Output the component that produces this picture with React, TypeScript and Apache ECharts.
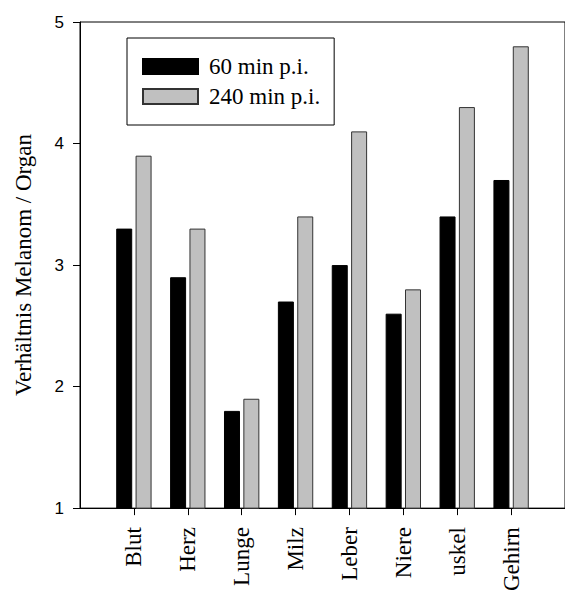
import React, { useEffect, useRef } from "react";
import * as echarts from "echarts";

const categories = ["Blut", "Herz", "Lunge", "Milz", "Leber", "Niere", "uskel", "Gehirn"];
const series60 = [3.3, 2.9, 1.8, 2.7, 3.0, 2.6, 3.4, 3.7];
const series240 = [3.9, 3.3, 1.9, 3.4, 4.1, 2.8, 4.3, 4.8];
const seriesNames = ["60 min p.i.", "240 min p.i."];
const yTitle = "Verhältnis Melanom / Organ";

const SERIF = "Liberation Serif";
const SANS = "Liberation Sans";

export default function App() {
  const ref = useRef<HTMLDivElement>(null);
  useEffect(() => {
    if (!ref.current) return;
    const chart = echarts.init(ref.current, undefined, { renderer: "svg" });
    const padCats = ["", ...categories, ""];
    const pad = (arr: number[]) => ["-", ...arr, "-"];
    chart.setOption({
      animation: false,
      backgroundColor: "#fff",
      textStyle: { fontFamily: SERIF },
      grid: {
        left: 80,
        top: 22,
        bottom: 83,
        right: -5,
        show: true,
        borderColor: "#000",
        borderWidth: 1,
        containLabel: false,
      },
      legend: {
        orient: "vertical",
        left: 127,
        top: 38,
        padding: [17, 14, 17, 15],
        borderColor: "#000",
        borderWidth: 1,
        itemWidth: 55,
        itemHeight: 15,
        itemGap: 7,
        icon: "rect",
        textStyle: { fontFamily: SERIF, fontSize: 23, color: "#000", padding: [0, 0, 0, 6] },
        data: seriesNames,
      },
      xAxis: {
        type: "category",
        data: padCats,
        boundaryGap: false,
        axisLine: { lineStyle: { color: "#000", width: 1 } },
        axisTick: {
          length: 7,
          lineStyle: { color: "#000" },
          interval: (i: number) => i > 0 && i < padCats.length - 1,
        },
        axisLabel: {
          interval: 0,
          rotate: 90,
          margin: 19,
          fontFamily: SERIF,
          fontSize: 23,
          color: "#000",
        },
        splitLine: { show: false },
      },
      yAxis: {
        type: "value",
        min: 1,
        max: 5,
        interval: 1,
        name: yTitle,
        nameLocation: "middle",
        nameRotate: 90,
        nameGap: 45,
        nameTextStyle: { fontFamily: SERIF, fontSize: 23, color: "#000" },
        axisLine: { show: true, lineStyle: { color: "#000", width: 1 } },
        axisTick: { show: true, length: 7, lineStyle: { color: "#000" } },
        axisLabel: { margin: 16, fontFamily: SANS, fontSize: 17, color: "#000" },
        splitLine: { show: false },
      },
      series: [
        {
          name: seriesNames[0],
          type: "bar",
          data: pad(series60),
          barWidth: 16,
          barGap: "21%",
          itemStyle: { color: "#000", borderColor: "#000", borderWidth: 1 },
        },
        {
          name: seriesNames[1],
          type: "bar",
          data: pad(series240),
          barWidth: 16,
          barGap: "21%",
          itemStyle: { color: "#c0c0c0", borderColor: "#333", borderWidth: 1 },
        },
      ],
    });
    return () => chart.dispose();
  }, []);
  return (
    <div
      ref={ref}
      style={{ position: "fixed", left: 0, top: 0, width: 565, height: 594, background: "#fff" }}
    />
  );
}
